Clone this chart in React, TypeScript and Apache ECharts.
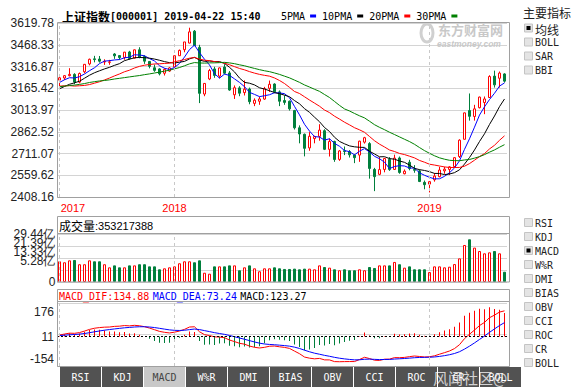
import React, { useEffect, useRef } from 'react';
import * as echarts from 'echarts';

const weeks = [
  '2017-07-21','2017-07-28','2017-08-04','2017-08-11','2017-08-18','2017-08-25','2017-09-01','2017-09-08','2017-09-15','2017-09-22',
  '2017-09-29','2017-10-13','2017-10-20','2017-10-27','2017-11-03','2017-11-10','2017-11-17','2017-11-24','2017-12-01','2017-12-08',
  '2017-12-15','2017-12-22','2017-12-29','2018-01-05','2018-01-12','2018-01-19','2018-01-26','2018-02-02','2018-02-09','2018-02-14',
  '2018-02-23','2018-03-02','2018-03-09','2018-03-16','2018-03-23','2018-03-30','2018-04-04','2018-04-13','2018-04-20','2018-04-27',
  '2018-05-04','2018-05-11','2018-05-18','2018-05-25','2018-06-01','2018-06-08','2018-06-15','2018-06-22','2018-06-29','2018-07-06',
  '2018-07-13','2018-07-20','2018-07-27','2018-08-03','2018-08-10','2018-08-17','2018-08-24','2018-08-31','2018-09-07','2018-09-14',
  '2018-09-21','2018-09-28','2018-10-12','2018-10-19','2018-10-26','2018-11-02','2018-11-09','2018-11-16','2018-11-23','2018-11-30',
  '2018-12-07','2018-12-14','2018-12-21','2018-12-28','2019-01-04','2019-01-11','2019-01-18','2019-01-25','2019-02-01','2019-02-15',
  '2019-02-22','2019-03-01','2019-03-08','2019-03-15','2019-03-22','2019-03-29','2019-04-04','2019-04-12','2019-04-19','2019-04-22'
];

const opens = [
  3222,3237,3253,3262,3208,3280,3335,3370,3369,3348,
  3346,3404,3393,3380,3418,3375,3433,3386,3352,3308,
  3300,3270,3285,3314,3392,3434,3480,3563,3450,3125,
  3230,3300,3250,3313,3272,3120,3168,3135,3160,3060,
  3075,3090,3165,3195,3140,3080,3075,3010,2890,2845,
  2750,2815,2830,2870,2740,2795,2670,2730,2725,2700,
  2700,2790,2780,2600,2566,2600,2670,2600,2680,2570,
  2650,2600,2590,2510,2498,2528,2550,2590,2600,2620,
  2690,2810,3010,2969,3030,3066,3101,3250,3235,3265
];
const closes = [
  3238,3253,3262,3209,3268,3332,3367,3365,3354,3353,
  3349,3391,3379,3417,3372,3433,3383,3354,3318,3290,
  3266,3297,3307,3392,3429,3488,3558,3462,3130,3199,
  3289,3255,3307,3270,3153,3169,3131,3159,3072,3082,
  3091,3163,3193,3141,3075,3067,3022,2890,2847,2747,
  2831,2829,2874,2740,2795,2669,2729,2725,2702,2682,
  2797,2821,2607,2550,2599,2676,2599,2679,2579,2588,
  2606,2594,2516,2494,2515,2554,2596,2602,2618,2682,
  2804,2994,2970,3022,3104,3091,3247,3189,3271,3215
];
const lows = [
  3160,3223,3248,3193,3200,3270,3325,3346,3344,3328,
  3329,3370,3364,3364,3364,3372,3374,3335,3304,3280,
  3255,3254,3280,3314,3390,3416,3478,3460,3062,3110,
  3222,3238,3235,3262,3148,3091,3110,3115,3054,3041,
  3050,3085,3140,3131,3041,3050,3010,2878,2782,2691,
  2730,2782,2800,2735,2690,2653,2660,2700,2683,2644,
  2653,2780,2536,2449,2560,2580,2590,2598,2570,2566,
  2594,2577,2512,2462,2440,2515,2545,2570,2562,2610,
  2680,2810,2940,2940,3025,2985,3100,3170,3170,3205
];
const highs = [
  3248,3257,3305,3270,3275,3334,3372,3391,3390,3367,
  3363,3410,3396,3418,3426,3435,3451,3395,3355,3330,
  3305,3304,3313,3392,3435,3488,3587,3571,3468,3202,
  3300,3315,3310,3333,3285,3185,3180,3220,3170,3095,
  3107,3175,3219,3200,3150,3115,3080,3015,2907,2850,
  2860,2835,2915,2880,2815,2800,2735,2760,2735,2705,
  2800,2827,2790,2611,2686,2681,2686,2703,2690,2600,
  2667,2630,2600,2523,2520,2575,2618,2618,2623,2685,
  2810,2996,3129,3050,3107,3108,3256,3288,3282,3270
];

// volume, 亿
const volumes = [
  12.7,12.1,13.3,13.5,10.9,10.9,13.3,12.7,12.7,10.9,
  9.0,10.2,9.0,9.0,10.2,10.2,10.9,10.9,9.6,9.6,
  7.8,8.4,9.0,9.6,11.5,12.7,12.7,12.1,13.3,5.7,
  5.1,9.6,9.6,9.6,10.2,10.2,7.2,9.0,10.2,8.4,
  6.6,8.4,8.4,9.0,8.4,8.0,8.0,8.2,7.8,8.2,
  8.2,7.8,10.2,9.2,8.8,7.8,7.2,7.8,7.2,7.2,
  7.8,7.2,9.2,8.6,10.2,10.2,10.2,12.3,10.9,8.8,
  9.6,7.8,7.8,7.8,6.1,9.6,9.6,9.0,9.4,11.0,
  14.5,22.7,26.2,21.1,19.0,17.6,18.2,19.0,17.6,6.3
];

const ma5 = [
  3205.6,3224.6,3238.6,3236.8,3246.0,3264.8,3287.6,3308.2,3337.2,3354.2,
  3357.6,3362.4,3365.2,3377.8,3381.6,3398.4,3396.8,3391.8,3372.0,3355.6,
  3322.2,3305.0,3295.6,3310.4,3338.2,3382.6,3434.8,3465.8,3413.4,3367.4,
  3327.6,3267.0,3236.0,3264.0,3254.8,3230.8,3206.0,3176.4,3136.8,3122.6,
  3107.0,3113.4,3120.2,3134.0,3132.6,3127.8,3099.6,3039.0,2980.2,2914.6,
  2867.4,2828.8,2825.6,2804.2,2813.8,2781.4,2761.4,2731.6,2724.0,2701.4,
  2727.0,2745.4,2721.8,2691.4,2674.8,2650.6,2606.2,2620.6,2626.4,2624.2,
  2610.2,2609.2,2576.6,2559.6,2545.0,2534.6,2535.0,2552.2,2577.0,2610.4,
  2660.4,2740.0,2813.6,2894.4,2978.8,3036.2,3086.8,3130.6,3180.4,3202.6
];
const ma10 = [
  3161.6,3177.8,3193.0,3203.3,3214.3,3235.2,3256.1,3273.4,3287.0,3300.1,
  3311.2,3325.0,3336.7,3357.5,3367.9,3378.0,3379.6,3378.5,3374.9,3368.6,
  3360.3,3350.9,3343.7,3341.2,3346.9,3352.4,3369.9,3380.7,3361.9,3352.8,
  3355.1,3350.9,3350.9,3338.7,3311.1,3279.2,3236.5,3206.2,3200.4,3188.7,
  3168.9,3159.7,3148.3,3135.4,3127.6,3117.4,3106.5,3079.6,3057.1,3023.6,
  2997.6,2964.2,2932.3,2892.2,2864.2,2824.4,2795.1,2778.6,2764.1,2757.6,
  2754.2,2753.4,2726.7,2707.7,2688.1,2688.8,2675.8,2671.2,2658.9,2649.5,
  2630.4,2607.7,2598.6,2593.0,2584.6,2572.4,2572.1,2564.4,2568.3,2577.7,
  2597.5,2637.5,2682.9,2735.7,2794.6,2848.3,2913.4,2972.1,3037.4,3090.7
];
const ma20 = [
  3180.3,3182.3,3183.6,3180.6,3182.8,3185.1,3191.1,3200.7,3210.7,3223.2,
  3236.4,3251.4,3264.9,3280.4,3291.1,3306.6,3317.9,3326.0,3331.0,3334.4,
  3335.8,3338.0,3340.2,3349.4,3357.4,3365.2,3374.8,3379.6,3368.4,3360.7,
  3357.7,3350.9,3347.3,3340.0,3329.0,3315.8,3303.2,3293.5,3281.2,3270.8,
  3262.0,3255.3,3249.6,3237.1,3219.4,3198.3,3171.5,3142.9,3128.8,3106.2,
  3083.3,3062.0,3040.3,3013.8,2995.9,2970.9,2950.8,2929.1,2910.6,2890.6,
  2875.9,2858.8,2829.5,2800.0,2776.2,2756.6,2735.5,2724.9,2711.5,2703.6,
  2692.3,2680.6,2662.7,2650.4,2636.4,2630.6,2624.0,2617.8,2613.6,2613.6,
  2614.0,2622.6,2640.8,2664.4,2689.6,2710.4,2742.8,2768.3,2802.9,2834.2
];
const ma30 = [
  3175.6,3180.6,3184.2,3187.4,3192.2,3198.0,3205.6,3211.2,3216.2,3219.6,
  3223.9,3229.9,3234.6,3239.5,3244.5,3249.4,3253.9,3260.0,3265.4,3271.6,
  3277.7,3284.6,3291.1,3300.7,3309.7,3321.9,3335.2,3344.2,3341.3,3340.5,
  3342.2,3342.3,3343.8,3345.8,3342.0,3336.5,3328.7,3321.8,3312.4,3303.4,
  3294.8,3287.2,3281.0,3271.8,3261.9,3249.7,3237.6,3222.2,3206.5,3188.4,
  3173.9,3158.3,3143.8,3122.1,3101.0,3073.7,3046.0,3021.5,3007.2,2990.0,
  2973.6,2959.1,2935.8,2911.8,2893.3,2876.9,2859.1,2843.1,2826.7,2810.2,
  2794.1,2775.1,2752.5,2731.0,2712.3,2695.2,2681.0,2671.4,2663.8,2661.6,
  2660.7,2666.2,2669.4,2678.8,2689.1,2703.2,2720.4,2735.9,2754.9,2772.6
];

const dif = [
  8.20,13.38,18.01,17.20,21.08,28.98,37.64,43.83,47.31,49.41,
  50.17,53.55,54.63,57.89,56.19,59.09,56.69,51.85,44.60,36.18,
  27.25,22.42,19.18,23.20,29.04,37.99,50.15,51.45,25.40,10.20,
  5.36,-1.21,-2.19,-5.88,-18.05,-26.10,-35.14,-39.59,-49.56,-56.01,
  -59.71,-56.18,-50.39,-49.42,-53.37,-56.49,-61.89,-75.94,-89.51,-107.10,
  -112.96,-116.42,-114.22,-121.88,-122.11,-130.95,-131.60,-130.93,-130.74,-130.70,
  -120.00,-108.34,-115.04,-123.53,-124.86,-118.34,-118.03,-110.05,-110.53,-108.92,
  -104.98,-101.66,-104.12,-106.62,-105.69,-100.64,-92.19,-84.04,-75.42,-62.70,
  -42.29,-10.66,12.33,34.35,57.76,74.40,99.03,112.58,128.45,134.88
];
const dea = [
  5.64,7.19,9.35,10.92,12.95,16.16,20.46,25.13,29.57,33.54,
  36.87,40.21,43.09,46.05,48.08,50.28,51.56,51.62,50.22,47.41,
  43.38,39.19,35.19,32.79,32.04,33.23,36.61,39.58,36.74,31.43,
  26.22,20.73,16.15,11.74,5.78,-0.60,-7.51,-13.93,-21.06,-28.05,
  -34.38,-38.74,-41.07,-42.74,-44.87,-47.19,-50.13,-55.29,-62.13,-71.12,
  -79.49,-86.88,-92.35,-98.26,-103.03,-108.61,-113.21,-116.75,-119.55,-121.78,
  -121.42,-118.80,-118.05,-119.15,-120.29,-119.90,-119.53,-117.63,-116.21,-114.75,
  -112.80,-110.57,-109.28,-108.75,-108.14,-106.64,-103.75,-99.81,-94.93,-88.48,
  -79.24,-65.52,-49.95,-33.09,-14.92,2.94,22.16,40.24,57.88,73.24
];
const macd = [
  5.12,12.38,17.32,12.56,16.26,25.64,34.36,37.40,35.48,31.74,
  26.60,26.68,23.08,23.68,16.22,17.62,10.26,0.46,-11.24,-22.46,
  -32.26,-33.54,-32.02,-19.18,-6.00,9.52,27.08,23.74,-22.68,-42.46,
  -41.72,-43.88,-36.68,-35.24,-47.66,-51.00,-55.26,-51.32,-57.00,-55.92,
  -50.66,-34.88,-18.64,-13.36,-17.00,-18.60,-23.52,-41.30,-54.76,-71.96,
  -66.94,-59.08,-43.74,-47.24,-38.16,-44.68,-36.78,-28.36,-22.38,-17.84,
  2.84,20.92,6.02,-8.76,-9.14,3.12,3.00,15.16,11.36,11.66,
  15.64,17.82,10.32,4.26,4.90,12.00,23.12,31.54,39.02,51.56,
  73.90,109.72,124.56,134.88,145.36,142.92,153.74,144.68,141.14,123.27
];

const priceTickLabels = ['2408.16','2559.62','2711.07','2862.52','3013.97','3165.42','3316.87','3468.33','3619.78'];
const volTickLabels = ['0','5.28亿','13.33亿','21.39亿','29.44亿'];
const macdTickLabels = ['-154','11','176'];
const yearStarts = ['2017-07-21','2018-01-05','2019-01-04'];
const mainIndicators = ['均线','BOLL','SAR','BBI'];
const subIndicators = ['RSI','KDJ','MACD','W%R','DMI','BIAS','OBV','CCI','ROC','CR','BOLL'];
const tabNames = ['RSI','KDJ','MACD','W%R','DMI','BIAS','OBV','CCI','ROC','CR','BOLL'];
const titleName = '上证指数';
const titleCode = '[000001] 2019-04-22 15:40';
const lastVolumeText = '353217388';
const sourceMark = '风闻社区@';

const RED = '#ff0000';
const GREEN = '#007f3c';
const MONO = '"DejaVu Sans Mono", monospace';
const CJK = '"Noto Sans CJK SC", sans-serif';
const SANS = '"Liberation Sans", Arial, sans-serif';
const FRAME = '#a0a0a0';

function yearMarkLine() {
  return {
    silent: true,
    symbol: 'none',
    label: { show: false },
    lineStyle: { color: '#c8c8c8', type: [3, 3], width: 1 },
    data: yearStarts.map((d) => ({ xAxis: d })),
  };
}

function checkbox(x: number, y: number, label: string, checked: boolean, cjk: boolean) {
  const els: any[] = [
    { type: 'rect', shape: { x: x + 0.5, y: y - 4.5, width: 8, height: 8 }, style: { fill: '#e4e4e4', stroke: '#c4c4c4', lineWidth: 1 }, silent: true },
  ];
  if (checked) {
    els.push({ type: 'rect', shape: { x: x + 2.5, y: y - 2.5, width: 4, height: 4 }, style: { fill: '#000' }, silent: true });
  }
  els.push({
    type: 'text', x: x + 11, y: cjk ? y + 1 : y,
    style: { text: label, fill: '#222', font: cjk ? `12px ${CJK}` : `10px ${MONO}`, lineHeight: 12, verticalAlign: 'middle', align: 'left' },
    silent: true,
  });
  return els;
}

function buildOption() {
  const candleData = opens.map((o, i) => [o, closes[i], lows[i], highs[i]]);
  const volData = volumes.map((v, i) => {
    const up = closes[i] >= opens[i];
    return {
      value: v,
      itemStyle: up ? { color: '#ffffff', borderColor: RED, borderWidth: 1 } : { color: GREEN, borderColor: GREEN, borderWidth: 1 },
    };
  });
  const macdData = macd.map((v) => ({ value: v, itemStyle: { color: v >= 0 ? RED : GREEN } }));

  const graphics: any[] = [];
  const rect = (x: number, y: number, w: number, h: number) => ({
    type: 'rect', shape: { x, y, width: w, height: h }, style: { fill: 'none', stroke: FRAME, lineWidth: 1 }, silent: true, z: 50,
  });
  graphics.push(rect(57.5, 22.5, 452, 175));
  graphics.push(rect(57.5, 216.5, 452, 17));
  graphics.push(rect(57.5, 233.5, 452, 48.5));
  graphics.push(rect(57.5, 289.5, 452, 12));
  graphics.push(rect(57.5, 301.5, 452, 65));

  // volume axis labels (the reference draws them packed above the zero label)
  const volLabelY = [281.7, 260.7, 251.7, 242.7, 234];
  volTickLabels.forEach((t, k) => {
    graphics.push({
      type: 'text', x: 55.5, y: volLabelY[k],
      style: { text: t, font: `12px ${SANS}`, lineHeight: 9, fill: '#222', align: 'right', verticalAlign: 'middle' },
      silent: true,
    });
  });

  graphics.push({
    type: 'text', x: 59, y: 225.5, z: 60,
    style: {
      text: `{c|成交量}{n|:${lastVolumeText}}`, verticalAlign: 'middle',
      rich: { c: { font: `12px ${CJK}`, fill: '#000', lineHeight: 14 }, n: { font: `11px ${SANS}`, fill: '#000', lineHeight: 14 } },
    },
    silent: true,
  });
  graphics.push({
    type: 'text', x: 59, y: 296, z: 60,
    style: {
      text: `{r|MACD_DIF:${dif[dif.length - 1].toFixed(2)}} {b|MACD_DEA:${dea[dea.length - 1].toFixed(2)}} {k|MACD:${macd[macd.length - 1].toFixed(2)}}`,
      verticalAlign: 'middle',
      rich: {
        r: { font: `10px ${MONO}`, fill: RED, lineHeight: 11 },
        b: { font: `10px ${MONO}`, fill: '#0000ff', lineHeight: 11 },
        k: { font: `10px ${MONO}`, fill: '#000', lineHeight: 11 },
      },
    },
    silent: true,
  });

  // eastmoney watermark
  graphics.push({ type: 'text', x: 438, y: 29.5, z: 40, style: { text: '东方财富网', font: `bold 13px ${CJK}`, lineHeight: 12, fill: '#c8c8c8', verticalAlign: 'middle' }, silent: true });
  graphics.push({ type: 'text', x: 437, y: 43.5, z: 40, style: { text: 'eastmoney.com', font: `italic bold 8.5px ${SANS}`, lineHeight: 7, fill: '#c8c8c8', verticalAlign: 'middle' }, silent: true });
  graphics.push({ type: 'ellipse', shape: { cx: 427, cy: 33, rx: 6, ry: 9 }, style: { fill: 'none', stroke: '#d0d0d0', lineWidth: 3 }, silent: true, z: 40 });

  graphics.push({ type: 'text', x: 523, y: 12, style: { text: '主要指标', font: `12px ${CJK}`, lineHeight: 13, fill: '#222', verticalAlign: 'middle' }, silent: true });
  mainIndicators.forEach((n, k) => {
    graphics.push(...checkbox(524, 28.5 + 14 * k, n, k === 0, k === 0));
  });
  subIndicators.forEach((n, k) => {
    graphics.push(...checkbox(524, 223 + 14 * k, n, n === 'MACD' && k === 2, false));
  });

  tabNames.forEach((n, k) => {
    const sel = n === 'MACD';
    graphics.push({ type: 'rect', shape: { x: 60 + 42 * k, y: 367, width: 41, height: 20 }, style: { fill: sel ? '#c8c8c8' : '#525252' }, silent: true });
    graphics.push({
      type: 'text', x: 60 + 42 * k + 20.5, y: 377.5,
      style: { text: n, font: `10px ${MONO}`, fill: sel ? '#444' : '#ffffff', align: 'center', verticalAlign: 'middle' },
      silent: true,
    });
  });
  graphics.push({
    type: 'text', x: 433, y: 377, z: 70,
    style: { text: sourceMark, font: `15px ${CJK}`, lineHeight: 16, fill: 'rgba(255,255,255,0.75)', verticalAlign: 'middle' },
    silent: true,
  });

  const xCommon = (gridIndex: number) => ({
    type: 'category', gridIndex, data: weeks, boundaryGap: true,
    axisLine: { show: false }, axisTick: { show: false }, splitLine: { show: false },
    axisLabel: { show: false },
  });

  const lbl = (extra: any) => ({ color: '#222', fontFamily: SANS, fontSize: 12, lineHeight: 9, ...extra });

  return {
    animation: false,
    backgroundColor: '#ffffff',
    title: {
      left: 57, top: 5,
      text: `{c|${titleName}}{a|${titleCode}}`,
      textStyle: {
        rich: {
          c: { fontFamily: CJK, fontSize: 12, color: '#000', lineHeight: 13 },
          a: { fontFamily: MONO, fontSize: 10, color: '#000', lineHeight: 13 },
        },
      },
    },
    legend: {
      left: 276, top: 6, align: 'right', icon: 'rect', itemWidth: 6, itemHeight: 3, itemGap: 6,
      selectedMode: false,
      textStyle: { fontFamily: MONO, fontSize: 10, color: '#000' },
      data: ['5PMA', '10PMA', '20PMA', '30PMA'],
    },
    grid: [
      { left: 57, top: 23, width: 450, height: 174 },
      { left: 57, top: 234, width: 450, height: 48 },
      { left: 57, top: 303, width: 450, height: 63 },
    ],
    xAxis: [
      {
        ...xCommon(0),
        axisLabel: {
          show: true, margin: 5,
          interval: (index: number, value: string) => yearStarts.indexOf(value) >= 0,
          formatter: (v: string) => (v === weeks[0] ? `{f|${v.slice(0, 4)}}` : `{y|${v.slice(0, 4)}}`),
          rich: {
            f: { color: RED, fontFamily: SANS, fontSize: 11, padding: [0, 0, 0, 27] },
            y: { color: RED, fontFamily: SANS, fontSize: 11 },
          },
        },
      },
      xCommon(1),
      xCommon(2),
    ],
    yAxis: [
      { type: 'value', gridIndex: 0, min: 2408.16, max: 3619.78, show: false },
      {
        type: 'value', gridIndex: 0, position: 'left', min: 0, max: 8, interval: 1,
        axisLine: { show: false }, axisTick: { show: false },
        splitLine: { lineStyle: { color: '#d4d4d4', width: 1 } },
        axisLabel: { margin: 3, showMinLabel: true, showMaxLabel: true, color: '#222', fontFamily: SANS, fontSize: 12, formatter: (v: number) => priceTickLabels[Math.round(v)] },
      },
      { type: 'value', gridIndex: 1, min: 0, max: 29.44, show: false },
      {
        type: 'value', gridIndex: 1, position: 'left', min: 0, max: 4, interval: 1,
        axisLine: { show: false }, axisTick: { show: false },
        splitLine: { lineStyle: { color: '#d4d4d4', width: 1 } },
        axisLabel: { show: false },
      },
      { type: 'value', gridIndex: 2, min: -154, max: 176, show: false },
      {
        type: 'value', gridIndex: 2, position: 'left', min: 0, max: 2, interval: 1,
        axisLine: { show: false }, axisTick: { show: false },
        splitLine: { lineStyle: { color: '#d4d4d4', width: 1 } },
        axisLabel: {
          margin: 3, showMinLabel: true, showMaxLabel: true,
          formatter: (v: number) => `{m${Math.round(v)}|${macdTickLabels[Math.round(v)]}}`,
          rich: {
            m0: lbl({ padding: [0, 0, 15, 0] }),
            m1: lbl({ padding: [4, 0, 0, 0] }),
            m2: lbl({ padding: [18, 0, 0, 0] }),
          },
        },
      },
    ],
    series: [
      {
        type: 'candlestick', name: 'K', xAxisIndex: 0, yAxisIndex: 0, data: candleData, barWidth: 3,
        itemStyle: { color: '#ffffff', color0: GREEN, borderColor: RED, borderColor0: GREEN, borderWidth: 1 },
        markLine: yearMarkLine(),
        z: 3,
      },
      { type: 'line', name: '5PMA', xAxisIndex: 0, yAxisIndex: 0, data: ma5, showSymbol: false, color: '#0000ff', lineStyle: { width: 1 }, z: 4 },
      { type: 'line', name: '10PMA', xAxisIndex: 0, yAxisIndex: 0, data: ma10, showSymbol: false, color: '#000000', lineStyle: { width: 1 }, z: 4 },
      { type: 'line', name: '20PMA', xAxisIndex: 0, yAxisIndex: 0, data: ma20, showSymbol: false, color: RED, lineStyle: { width: 1 }, z: 4 },
      { type: 'line', name: '30PMA', xAxisIndex: 0, yAxisIndex: 0, data: ma30, showSymbol: false, color: '#008000', lineStyle: { width: 1 }, z: 4 },
      {
        type: 'bar', name: 'VOL', xAxisIndex: 1, yAxisIndex: 2, data: volData, barWidth: 3,
        markLine: yearMarkLine(),
      },
      {
        type: 'bar', name: 'MACD', xAxisIndex: 2, yAxisIndex: 4, data: macdData, barWidth: 1,
        markLine: {
          silent: true, symbol: 'none', label: { show: false },
          lineStyle: { color: '#c8c8c8', type: [3, 3], width: 1 },
          data: [
            ...yearStarts.map((d) => ({ xAxis: d })),
            { yAxis: 0, lineStyle: { color: '#000', type: [2, 2], width: 1 } },
          ],
        },
      },
      { type: 'line', name: 'DIF', xAxisIndex: 2, yAxisIndex: 4, data: dif, showSymbol: false, color: RED, lineStyle: { width: 1 }, z: 4 },
      { type: 'line', name: 'DEA', xAxisIndex: 2, yAxisIndex: 4, data: dea, showSymbol: false, color: '#0000ff', lineStyle: { width: 1 }, z: 4 },
    ],
    graphic: graphics,
  };
}

export default function App() {
  const ref = useRef<HTMLDivElement>(null);
  useEffect(() => {
    if (!ref.current) return;
    const chart = echarts.init(ref.current, undefined, { renderer: 'svg' });
    chart.setOption(buildOption() as any);
    return () => chart.dispose();
  }, []);
  return <div ref={ref} style={{ position: 'fixed', left: 0, top: 0, width: 577, height: 389, background: '#ffffff' }} />;
}
